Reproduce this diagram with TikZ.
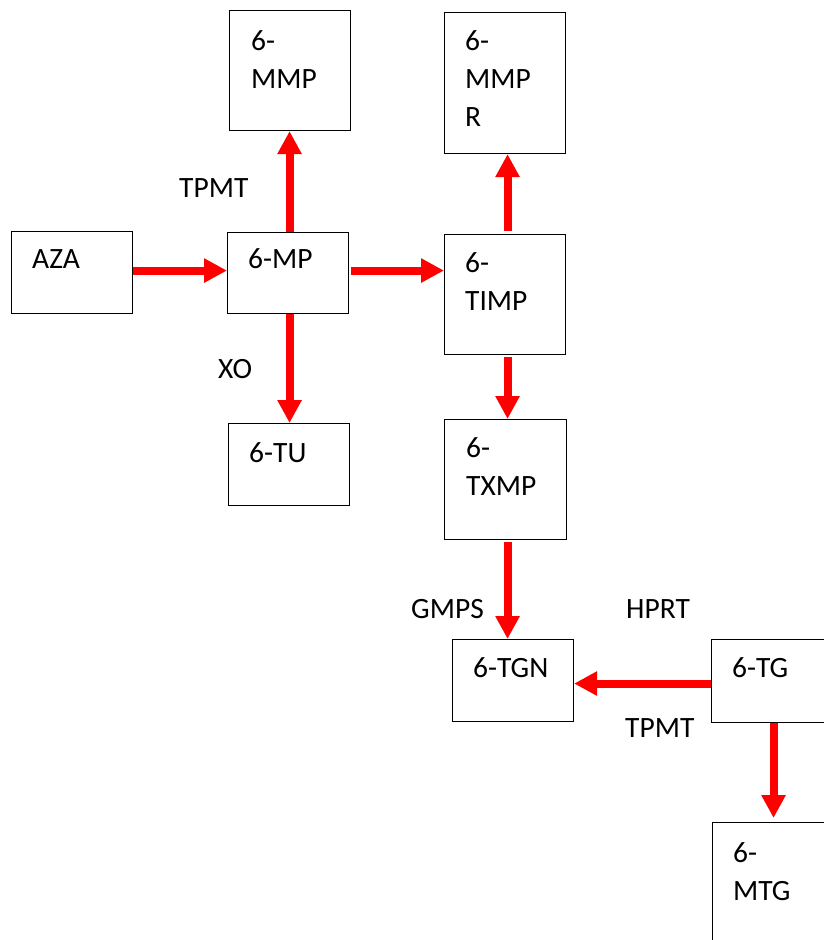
\documentclass[tikz,border=0pt]{standalone}
\usepackage{fontspec}
\setmainfont{Carlito}
\usetikzlibrary{arrows.meta}
\definecolor{arrred}{RGB}{255,0,0}
\tikzset{
  box/.style={draw=black, line width=1.1bp, inner sep=0pt, anchor=north west},
  txt/.style={anchor=base west, inner sep=0pt, align=left, text width=90bp,
              font=\fontsize{29.6}{38.2}\selectfont},
  lbl/.style={anchor=base west, inner sep=0pt, font=\fontsize{29.6}{38.2}\selectfont},
  arr/.style={draw=arrred, line width=8bp, -{Triangle[length=23bp,width=23bp]}}
}
\begin{document}
\begin{tikzpicture}[x=1bp,y=-1bp]
\useasboundingbox (0,0) rectangle (824,940);
\clip (0,0) rectangle (824,940);
% boxes
\node[box, minimum width=121bp, minimum height=120bp] (mmp)  at (229,10)  {};
\node[box, minimum width=121bp, minimum height=141bp] (mmpr) at (444,12)  {};
\node[box, minimum width=121bp, minimum height=82bp]  (aza)  at (11,231)  {};
\node[box, minimum width=121bp, minimum height=81bp]  (mp)   at (227,232) {};
\node[box, minimum width=121bp, minimum height=120bp] (timp) at (444,234) {};
\node[box, minimum width=121bp, minimum height=82bp]  (tu)   at (228,423) {};
\node[box, minimum width=122bp, minimum height=120bp] (txmp) at (444,419) {};
\node[box, minimum width=121bp, minimum height=82bp]  (tgn)  at (452,639) {};
\node[box, minimum width=121bp, minimum height=83bp]  (tg)   at (711,639) {};
\node[box, minimum width=121bp, minimum height=125bp] (mtg)  at (712,822) {};
% box texts
\node[txt] (t-mmp)  at ([xshift=22bp,yshift=-40bp]mmp.north west)  {6-\\MMP};
\node[txt] (t-mmpr) at ([xshift=21bp,yshift=-38bp]mmpr.north west) {6-\\MMP\\R};
\node[txt] (t-aza)  at ([xshift=21bp,yshift=-37bp]aza.north west)  {AZA};
\node[txt] (t-mp)   at ([xshift=21bp,yshift=-36bp]mp.north west)   {6-MP};
\node[txt] (t-timp) at ([xshift=21bp,yshift=-38bp]timp.north west) {6-\\TIMP};
\node[txt] (t-tu)   at ([xshift=21bp,yshift=-39bp]tu.north west)   {6-TU};
\node[txt] (t-txmp) at ([xshift=22bp,yshift=-38bp]txmp.north west) {6-\\TXMP};
\node[txt] (t-tgn)  at ([xshift=21bp,yshift=-38bp]tgn.north west)  {6-TGN};
\node[txt] (t-tg)   at ([xshift=21bp,yshift=-38bp]tg.north west)   {6-TG};
\node[txt] (t-mtg)  at ([xshift=21bp,yshift=-40bp]mtg.north west)  {6-\\MTG};
% arrows
\draw[arr] ([yshift=2bp]aza.east) -- ([yshift=2bp]aza.east -| mp.west);
\draw[arr] ([xshift=1.5bp]mp.north) -- ([xshift=1.5bp]mp.north |- mmp.south);
\draw[arr] ([xshift=1.5bp]mp.south) -- ([xshift=1.5bp]mp.south |- tu.north);
\draw[arr] ([xshift=2bp,yshift=2.5bp]mp.east) -- ([yshift=2.5bp]mp.east -| timp.west);
\draw[arr] ([xshift=2.5bp,yshift=3bp]timp.north) -- ([xshift=2.5bp]timp.north |- mmpr.south);
\draw[arr] ([xshift=2.5bp,yshift=-2bp]timp.south) -- ([xshift=2.5bp]timp.south |- txmp.north);
\draw[arr] ([xshift=2bp,yshift=-2bp]txmp.south) -- ([xshift=2bp]txmp.south |- tgn.north);
\draw[arr] ([yshift=-2.5bp]tg.west) -- ([yshift=-2.5bp]tg.west -| tgn.east);
\draw[arr] ([xshift=1.5bp]tg.south) -- ([xshift=1.5bp,yshift=4bp]tg.south |- mtg.north);
% enzyme labels
\node[lbl] (l-tpmt1) at (179,197) {TPMT};
\node[lbl] (l-xo)    at (218,378) {XO};
\node[lbl] (l-gmps)  at (411,618) {GMPS};
\node[lbl] (l-hprt)  at (626,618) {HPRT};
\node[lbl] (l-tpmt2) at (625,737) {TPMT};
\end{tikzpicture}
\end{document}
